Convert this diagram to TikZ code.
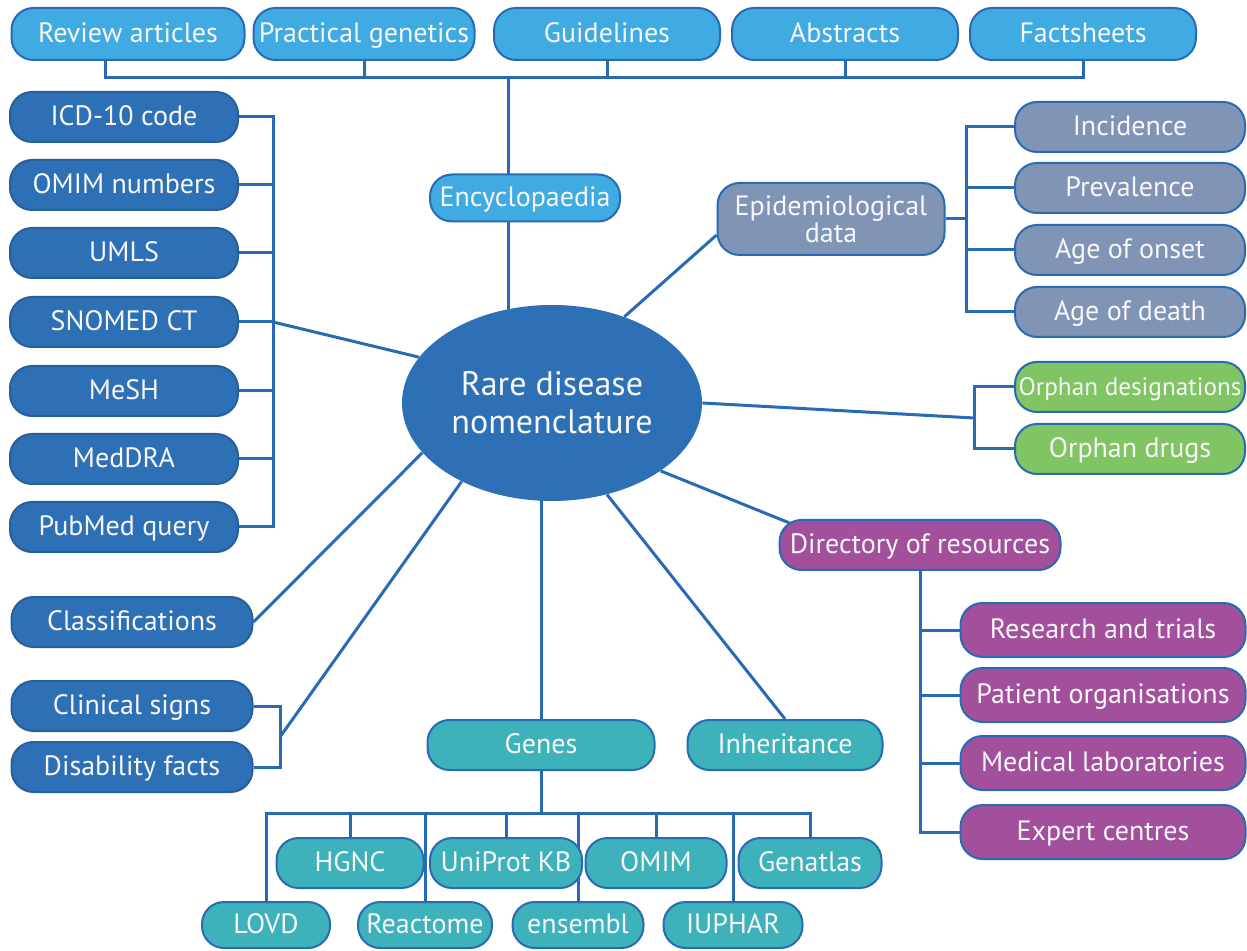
\documentclass[tikz,border=0pt]{standalone}
\usepackage{fontspec}
\setmainfont{PT Sans}
\usepackage{tikz}
\usetikzlibrary{backgrounds,shapes.geometric}
\definecolor{skyB}{RGB}{64,170,226}
\definecolor{navyB}{RGB}{46,112,182}
\definecolor{slateB}{RGB}{128,148,182}
\definecolor{leafG}{RGB}{128,196,100}
\definecolor{plumM}{RGB}{162,80,156}
\definecolor{tealC}{RGB}{62,178,186}
\definecolor{wireB}{RGB}{40,106,180}

\begin{document}
\begin{tikzpicture}[x=0.5pt,y=-0.5pt,
   pill/.style={draw=wireB,line width=1pt,rounded corners=11pt,text=white!94!gray,
     minimum height=25pt,inner sep=1pt,text height=11.5pt,text depth=3pt,
     font=\fontsize{14}{16}\selectfont},
   tp/.style={pill,fill=skyB,minimum height=26pt},
   lf/.style={pill,fill=navyB,draw=navyB!85!black,minimum width=114pt},
   ep/.style={pill,fill=slateB},
   og/.style={pill,fill=leafG},
   mg/.style={pill,fill=plumM,minimum height=27pt},
   gn/.style={pill,fill=tealC},
   w/.style={wireB,line width=1.5pt}]
\useasboundingbox (0,0) rectangle (1247,951);
%% ---- top row: literature ----
\node[tp,minimum width=116.5pt] (rev) at (128,34) {Review articles};
\node[tp,minimum width=110.5pt,inner sep=0pt] (prac) at (364,34) {Practical genetics};
\node[tp,minimum width=113pt] (guid) at (607,34) {Guidelines};
\node[tp,minimum width=113pt] (abst) at (845,34) {Abstracts};
\node[tp,minimum width=113pt] (fact) at (1083,34) {Factsheets};
\node[tp,minimum width=95pt,minimum height=23.5pt] (ency) at (525,198) {Encyclopaedia};
%% ---- centre ----
\node[ellipse,fill=navyB,minimum width=150pt,minimum height=98pt,inner sep=0pt,
  text=white!94!gray,align=center,font=\fontsize{17}{19}\selectfont] (rdn) at (552,403)
  {Rare disease\\nomenclature};
%% ---- left column: codes ----
\node[lf] (icd) at (124,117) {ICD-10 code};
\node[lf] (omn) at (124,185) {OMIM numbers};
\node[lf] (uml) at (124,253) {UMLS};
\node[lf] (sno) at (124,322) {SNOMED CT};
\node[lf] (msh) at (124,391) {MeSH};
\node[lf] (mdr) at (124,459) {MedDRA};
\node[lf] (pub) at (124,527) {PubMed query};
\node[lf,minimum width=120.5pt] (cls) at (132,622) {Classifications};
\node[lf,minimum width=120.5pt] (cli) at (132,706) {Clinical signs};
\node[lf,minimum width=120.5pt] (dis) at (132,767) {Disability facts};
%% ---- epidemiology ----
\node[ep,minimum width=113.5pt,minimum height=36pt,align=center,text height={},text depth={},
  font=\fontsize{14}{13.5}\selectfont] (epi) at (831,219) {Epidemiological\\data};
\node[ep,minimum width=115pt] (inc) at (1130,127) {Incidence};
\node[ep,minimum width=115pt] (prv) at (1130,188) {Prevalence};
\node[ep,minimum width=115pt] (aon) at (1130,250) {Age of onset};
\node[ep,minimum width=115pt] (ade) at (1130,312) {Age of death};
%% ---- orphan ----
\node[og,minimum width=115pt,inner sep=0pt,font=\fontsize{12.6}{14}\selectfont] (odes) at (1130,387) {Orphan designations};
\node[og,minimum width=115pt] (odrg) at (1130,449) {Orphan drugs};
%% ---- directory ----
\node[mg,minimum width=140.5pt,minimum height=25pt] (dir) at (920,545) {Directory of resources};
\node[mg,minimum width=142.5pt] (rat) at (1103,630) {Research and trials};
\node[mg,minimum width=142.5pt] (pat) at (1103,695) {Patient organisations};
\node[mg,minimum width=142.5pt] (med) at (1103,763) {Medical laboratories};
\node[mg,minimum width=142.5pt] (exp) at (1103,832) {Expert centres};
%% ---- genes ----
\node[gn,minimum width=113.5pt] (gen) at (541,745) {Genes};
\node[gn,minimum width=97.5pt] (inh) at (785,745) {Inheritance};
\node[gn,minimum width=73.5pt] (hgnc) at (350,863) {HGNC};
\node[gn,minimum width=76pt] (unp) at (506,863) {UniProt KB};
\node[gn,minimum width=70.5pt] (omim) at (656,863) {OMIM};
\node[gn,minimum width=71.5pt] (gat) at (810,863) {Genatlas};
\node[gn,minimum width=64pt,minimum height=23pt] (lovd) at (266,925) {LOVD};
\node[gn,minimum width=67pt,minimum height=23pt] (rea) at (425,925) {Reactome};
\node[gn,minimum width=65.5pt,minimum height=23pt] (ens) at (578,925) {ensembl};
\node[gn,minimum width=69.5pt,minimum height=23pt] (iup) at (733,925) {IUPHAR};
%% ---- connectors (behind the boxes) ----
\begin{scope}[on background layer]
  \coordinate (tb) at (105,78);
  \coordinate (stem) at (508,78);
  \draw[w] (tb |- rev.south) |- (fact.south |- tb) -- (fact.south);
  \draw[w] (prac.south) -- (prac.south |- tb);
  \draw[w] (guid.south) -- (guid.south |- tb);
  \draw[w] (abst.south) -- (abst.south |- tb);
  \draw[w] (stem) -- (stem |- rdn);   % runs behind Encyclopaedia
  \coordinate (lbr) at (273,322);
  \draw[w] (icd.east) -| (lbr) |- (pub.east);
  \draw[w] (omn.east) -- (omn.east -| lbr);
  \draw[w] (uml.east) -- (uml.east -| lbr);
  \draw[w] (sno.east) -- (lbr);
  \draw[w] (msh.east) -- (msh.east -| lbr);
  \draw[w] (mdr.east) -- (mdr.east -| lbr);
  \draw[w] (lbr) -- (rdn.161);
  \draw[w] (cls.east) -- (rdn.201);
  \coordinate (cdb) at (280,737);
  \draw[w] (cli.east) -| (cdb) |- (dis.east);
  \draw[w] (cdb) -- (rdn.221);
  \draw[w] (rdn.50) -- (epi.188);
  \coordinate (ebr) at (966,219);
  \draw[w] (epi.east) -- (ebr);
  \draw[w] (inc.west) -| (ebr) |- (ade.west);
  \draw[w] (prv.west) -- (prv.west -| ebr);
  \draw[w] (aon.west) -- (aon.west -| ebr);
  \coordinate (obr) at (974,418);
  \draw[w] (rdn.east) -- (obr);
  \draw[w] (odes.west) -| (obr) |- (odrg.west);
  \draw[w] (rdn.328) -- ([xshift=8pt,yshift=-3pt]dir.north west);
  \draw[w] (dir.south) |- (exp.west);
  \draw[w] (rat.west) -- (rat.west -| dir.south);
  \draw[w] (pat.west) -- (pat.west -| dir.south);
  \draw[w] (med.west) -- (med.west -| dir.south);
  \draw[w] (rdn.301) -- (inh.north);
  \draw[w] (gen.north) -- (gen.north |- rdn);
  \coordinate (gbr) at (541,813);
  \draw[w] (gen.south) -- (gbr);
  \draw[w] (lovd.north) |- (gbr) -| (gat.north);
  \draw[w] (hgnc.north) -- (hgnc.north |- gbr);
  \draw[w] (rea.north) -- (rea.north |- gbr);
  \draw[w] (unp.north) -- (unp.north |- gbr);
  \draw[w] (ens.north) -- (ens.north |- gbr);
  \draw[w] (omim.north) -- (omim.north |- gbr);
  \draw[w] (iup.north) -- (iup.north |- gbr);
\end{scope}
\end{tikzpicture}
\end{document}
